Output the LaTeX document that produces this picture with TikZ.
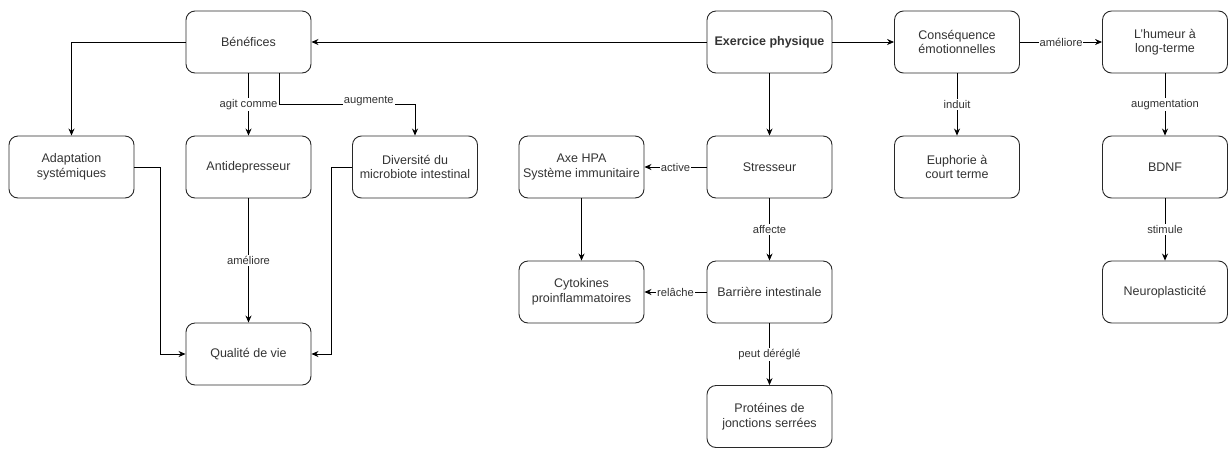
\documentclass[tikz,border=0pt]{standalone}
\usepackage{fontspec}
\setmainfont{Liberation Sans}
\usetikzlibrary{arrows.meta}
\definecolor{boxline} {RGB}{40, 40, 40}
\definecolor{darktext}{RGB}{51, 51, 51}

\begin{document}
\begin{tikzpicture}[x=1pt, y=-1pt, font=\fontsize{12.5}{14.5}\selectfont,
  box/.style={draw=boxline, line width=0.9pt, rounded corners=9pt,
    minimum width=125pt, minimum height=62pt, align=center, text=darktext},
  link/.style={-{Stealth[length=7pt, width=6pt]}, line width=0.8pt},
  lbl/.style={fill=white, inner sep=1pt, text=darktext,
    font=\fontsize{11.2}{13}\selectfont}]
  \useasboundingbox (0,0) rectangle (1228,448);
  % left branch
  \node[box] (benef)  at (248.5, 42) {Bénéfices};
  \node[box] (adapt)  at (71.5, 167) {Adaptation\\systémiques};
  \node[box] (antid)  at (248.5,167) {Antidepresseur};
  \node[box] (diver)  at (415, 167)  {Diversité du\\microbiote intestinal};
  \node[box] (qualite) at (248.5,354) {Qualité de vie};
  % middle branch
  \node[box] (exo)    at (769.5, 42) {\textbf{Exercice physique}};
  \node[box] (axe)    at (581.5,167) {Axe HPA\\Système immunitaire};
  \node[box] (stress) at (769.5,167) {Stresseur};
  \node[box] (cyto)   at (581.5,292) {Cytokines\\proinflammatoires};
  \node[box] (barr)   at (769.5,292) {Barrière intestinale};
  \node[box] (prot)   at (769.5,416.5) {Protéines de\\jonctions serrées};
  % right branch
  \node[box] (conseq) at (957, 42)   {Conséquence\\émotionnelles};
  \node[box] (eupho)  at (957, 167)  {Euphorie à\\court terme};
  \node[box] (humeur) at (1165, 42)  {L'humeur à\\long-terme};
  \node[box] (bdnf)   at (1165,167)  {BDNF};
  \node[box] (neuro)  at (1165,292)  {Neuroplasticité};

  % connectors
  \draw[link] (exo) -- (benef);
  \draw[link] (exo) -- (conseq);
  \draw[link] (exo) -- (stress);
  \draw[link] (benef.west) -| (adapt.north);
  \draw[link] (benef.south) -- node[lbl] {agit comme} (antid.north);
  \coordinate (augturn) at (415,104);
  \draw[link] ([xshift=30.5pt]benef.south) |- node[lbl, pos=0.83, yshift=3pt] {augmente} (augturn) -- (diver.north);
  \draw[link] (antid) -- node[lbl] {améliore} (qualite);
  \draw[link] (adapt.east) -- ++(26,0) |- (qualite.west);
  \draw[link] (diver.west) -- ++(-21,0) |- (qualite.east);
  \draw[link] (stress) -- node[lbl] {active} (axe);
  \draw[link] (axe) -- (cyto);
  \draw[link] (stress) -- node[lbl] {affecte} (barr);
  \draw[link] (barr) -- node[lbl] {relâche} (cyto);
  \draw[link] (barr) -- node[lbl] {peut déréglé} (prot);
  \draw[link] (conseq) -- node[lbl] {améliore} (humeur);
  \draw[link] (conseq) -- node[lbl] {induit} (eupho);
  \draw[link] (humeur) -- node[lbl] {augmentation} (bdnf);
  \draw[link] (bdnf) -- node[lbl] {stimule} (neuro);
\end{tikzpicture}
\end{document}
